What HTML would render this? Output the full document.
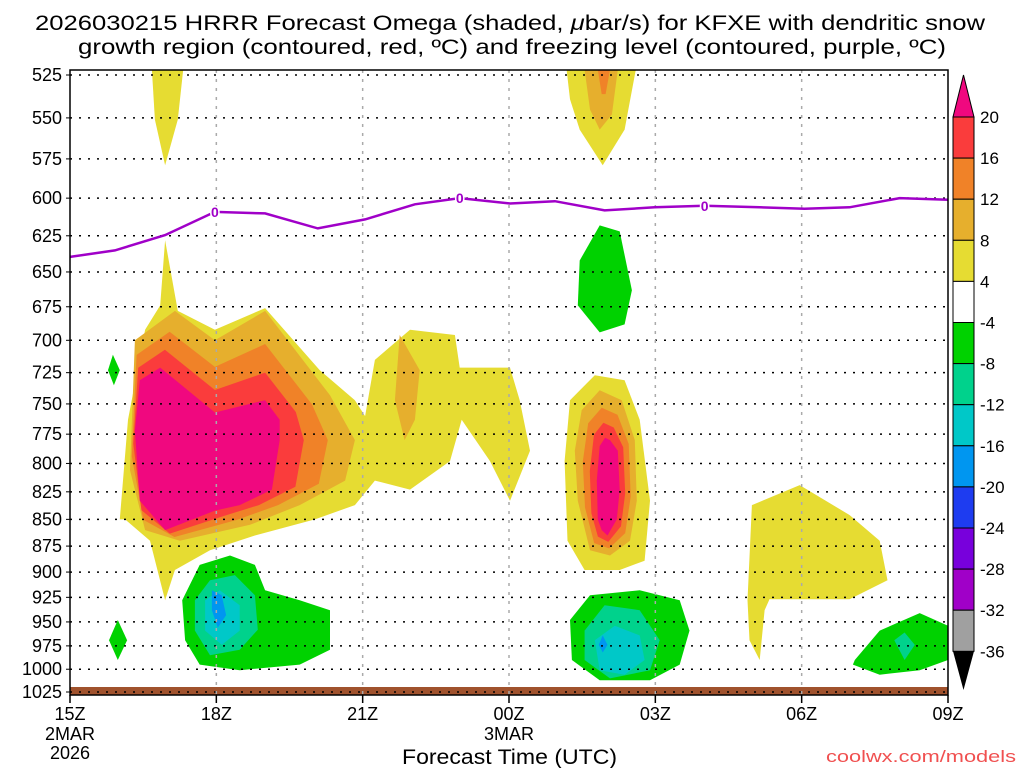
<!DOCTYPE html>
<html><head><meta charset="utf-8">
<style>
html,body{margin:0;padding:0;background:#fff;width:1024px;height:768px;overflow:hidden}
svg{display:block}
text{font-family:"Liberation Sans",sans-serif;fill:#000}
</style></head>
<body>
<svg id="chart" width="1024" height="768" viewBox="0 0 1024 768" xmlns="http://www.w3.org/2000/svg">
<g id="title">
<text x="35" y="30" font-size="21" textLength="950" lengthAdjust="spacingAndGlyphs">2026030215 HRRR Forecast Omega (shaded, <tspan font-style="italic">μ</tspan>bar/s) for KFXE with dendritic snow</text>
<text x="78" y="54" font-size="21" textLength="868" lengthAdjust="spacingAndGlyphs">growth region (contoured, red, ºC) and freezing level (contoured, purple, ºC)</text>
</g>
<g id="fills"></g>
<g id="grid"></g>
<g id="frz"></g>
<g id="axes"></g>
<g id="cbar"></g>
<text x="402" y="764" font-size="21" textLength="215" lengthAdjust="spacingAndGlyphs">Forecast Time (UTC)</text>
<text x="826" y="762" font-size="17" textLength="190" lengthAdjust="spacingAndGlyphs" style="fill:#f05050">coolwx.com/models</text>
</svg>
<script>
// ---- data (hour since 15Z, pressure hPa) ----
const pressureTicks=[525,550,575,600,625,650,675,700,725,750,775,800,825,850,875,900,925,950,975,1000,1025];
const timeTicks=[0,3,6,9,12,15,18];
const timeLabels=["15Z","18Z","21Z","00Z","03Z","06Z","09Z"];
const dateLabels={0:["2MAR","2026"],9:["3MAR"]};
const cbarLevels=[20,16,12,8,4,-4,-8,-12,-16,-20,-24,-28,-32,-36];
const freezeHours=[0,0.92,1.95,2.97,4.0,5.08,6.05,7.07,7.99,9.02,9.94,10.96,11.99,13.01,14.14,15.06,15.98,17.01,18.0];
const freezePres=[639.5,635,624.5,609,610,620,614,604,600,603.5,602,608,606,605,606,607,606,600,601];
const freezeLabelHours=[2.97,7.99,13.01];

const yellowA=[[1.02,850],[1.19,763],[1.54,692],[1.85,674],[1.95,628],[2.21,678],[2.97,692],[4.0,676],[5.12,723],[5.84,747],[6.05,760],[6.25,715],[6.97,692],[7.89,696],[7.99,721],[9.02,721],[9.22,747],[9.43,789],[9.02,833],[8.61,798],[8.03,763],[7.79,798],[6.97,823],[6.25,815],[5.84,837],[5.02,850],[3.79,865],[2.87,879],[2.15,898],[1.95,928],[1.64,870],[1.13,850]];
const loA=[[1.33,700],[2.15,678],[2.97,700],[4.0,678],[5.33,743],[5.84,780],[5.64,815],[4.71,837],[3.69,855],[2.25,870],[1.54,860],[1.23,806]];
const magA=[[1.43,731],[1.85,721],[2.97,757],[4.0,747],[4.3,763],[4.3,780],[4.14,823],[3.48,837],[2.97,842],[1.95,860],[1.43,833],[1.33,772]];
const orange22=[[6.76,696],[7.17,723],[7.07,763],[6.86,780],[6.66,747]];
const yellowTop16=[[1.68,522],[2.32,522],[2.21,551],[1.95,579],[1.74,551]];
const yellowTop02=[[10.18,522],[11.6,522],[11.37,557],[10.92,579],[10.45,557],[10.25,539]];
const loTop02=[[10.55,522],[11.23,522],[11.11,548],[10.86,557],[10.66,545]];
const orTop02=[[10.82,522],[11.07,522],[10.98,536],[10.9,536]];
const green02Up=[[10.45,642],[10.86,618],[11.27,622],[11.52,663],[11.37,688],[10.86,694],[10.41,674]];
const yellowB=[[10.14,798],[10.25,747],[10.76,727],[11.37,731],[11.68,763],[11.89,833],[11.78,889],[11.27,898],[10.55,898],[10.2,870]];
const loB=[[10.35,789],[10.49,755],[10.86,739],[11.31,747],[11.58,780],[11.62,833],[11.48,870],[11.07,884],[10.66,879],[10.41,833]];
const magB=[[10.8,815],[10.86,785],[10.97,778],[11.07,780],[11.23,789],[11.27,823],[11.21,850],[11.02,865],[10.9,860],[10.82,850]];
const greenL1=[[0.88,711],[1.02,723],[0.9,735],[0.78,723]];
const greenL2=[[0.98,948],[1.17,969],[0.98,990],[0.8,969]];
const green18=[[2.3,928],[2.66,893],[3.28,884],[3.79,893],[4.0,918],[4.71,928],[5.33,938],[5.33,979],[4.71,995],[3.48,1001],[2.66,995],[2.36,969]];
const teal18=[[2.56,928],[2.87,908],[3.38,903],[3.79,923],[3.85,958],[3.48,979],[2.87,985],[2.56,959]];
const cyan18=[[2.77,928],[3.07,918],[3.48,933],[3.48,959],[3.11,974],[2.77,959]];
const blue18=[[2.91,918],[3.11,923],[3.2,943],[3.03,956],[2.91,938]];
const green02=[[10.25,948],[10.66,923],[11.68,918],[12.5,928],[12.7,959],[12.5,995],[11.89,1012],[10.86,1012],[10.29,990]];
const teal02=[[10.55,959],[10.96,933],[11.68,938],[12.09,969],[11.89,1001],[11.07,1010],[10.55,990]];
const cyan02=[[10.76,969],[11.17,954],[11.68,964],[11.78,990],[11.37,1006],[10.86,1001]];
const blue02=[[10.92,964],[11.02,974],[10.92,982],[10.84,974]];
const green08=[[16.09,990],[16.6,959],[17.42,941],[18,954],[18,990],[17.42,1001],[16.6,1006],[16.05,995]];
const teal08=[[16.9,969],[17.11,961],[17.32,974],[17.11,990]];
const yellowR=[[13.98,837],[14.96,819],[15.98,846],[16.6,870],[16.76,908],[15.98,927],[14.34,927],[14.24,938],[14.14,990],[13.93,969],[13.89,928]];

const C={mag:"#f0087f",red:"#fa3c3c",or:"#f08228",lo:"#e6af2d",ye:"#e6dc32",gr:"#00d200",te:"#00d28c",cy:"#00c8c8",lb:"#0096f0",bl:"#1e3cf0",pu:"#7800dc",vi:"#a000c8",gy:"#a0a0a0"};
// ---- axes functions ----
const X0=70,X1=948,Y0=75,Y1=692;
const xS=h=>X0+h*(X1-X0)/18;
const yS=p=>Y0+(Math.log(p)-Math.log(525))*(Y1-Y0)/(Math.log(1025)-Math.log(525));
const NS="http://www.w3.org/2000/svg";
function mk(tag,attrs,parent){const e=document.createElementNS(NS,tag);for(const k in attrs)e.setAttribute(k,attrs[k]);parent.appendChild(e);return e;}
const fills=document.getElementById('fills');
function poly(pts,color,name){
  const e=mk('polygon',{points:pts.map(q=>xS(q[0]).toFixed(1)+','+yS(q[1]).toFixed(1)).join(' '),fill:color},fills);
  
  
}
function lerp(a,b,t){return a.map((q,i)=>[q[0]+(b[i][0]-q[0])*t,q[1]+(b[i][1]-q[1])*t]);}
poly(yellowA,C.ye,'omega-4-8-left');
poly(loA,C.lo,'omega-8-12-left');
poly(lerp(loA,magA,0.36),C.or,'omega-12-16-left');
poly(lerp(loA,magA,0.68),C.red,'omega-16-20-left');
poly(magA,C.mag,'omega-20-left');
poly(orange22,C.lo,'omega-8-12-22z');
poly(yellowTop16,C.ye,'omega-4-8-top-16z');
poly(yellowTop02,C.ye,'omega-4-8-top-02z');
poly(loTop02,C.lo,'omega-8-12-top-02z');
poly(orTop02,C.or,'omega-12-16-top-02z');
poly(green02Up,C.gr,'omega-neg-upper-02z');
poly(yellowB,C.ye,'omega-4-8-02z');
poly(loB,C.lo,'omega-8-12-02z');
poly(lerp(loB,magB,0.36),C.or,'omega-12-16-02z');
poly(lerp(loB,magB,0.68),C.red,'omega-16-20-02z');
poly(magB,C.mag,'omega-20-02z');
poly(greenL1,C.gr,'omega-neg-16z-725');
poly(greenL2,C.gr,'omega-neg-16z-975');
poly(green18,C.gr,'omega-neg-18z');
poly(teal18,C.te,'omega-neg8-18z');
poly(cyan18,C.cy,'omega-neg12-18z');
poly(blue18,C.lb,'omega-neg16-18z');
poly(green02,C.gr,'omega-neg-02z');
poly(teal02,C.te,'omega-neg8-02z');
poly(cyan02,C.cy,'omega-neg12-02z');
poly(blue02,C.lb,'omega-neg16-02z');
poly(green08,C.gr,'omega-neg-08z');
poly(teal08,C.te,'omega-neg8-08z');
poly(yellowR,C.ye,'omega-4-8-06z');
// ground
const groundRect=mk('rect',{x:X0,y:687,width:X1-X0,height:8,fill:"#a0522d"},fills);



// grid
const grid=document.getElementById('grid');
pressureTicks.forEach(p=>{
  const l=mk('line',{x1:X0,x2:X1,y1:yS(p),y2:yS(p),stroke:"#000","stroke-width":1.5,"stroke-dasharray":"2,7"},grid);
  
  
});
timeTicks.slice(1,-1).forEach(h=>{
  const l=mk('line',{x1:xS(h),x2:xS(h),y1:70,y2:695,stroke:"#aaa","stroke-width":1.5,"stroke-dasharray":"3,6"},grid);
  
  
});

// freezing line
const frz=document.getElementById('frz');
const fl=mk('polyline',{points:freezeHours.map((h,i)=>xS(h).toFixed(1)+','+yS(freezePres[i]).toFixed(1)).join(' '),fill:"none",stroke:"#a000c8","stroke-width":2.5},frz);


freezeLabelHours.forEach(h=>{
  const i=freezeHours.indexOf(h);
  const t=mk('text',{x:xS(h),y:yS(freezePres[i])+5,"font-size":14,"text-anchor":"middle","font-weight":"bold",style:"fill:#a000c8;paint-order:stroke;stroke:#fff;stroke-width:3px"},frz);
  t.textContent='0';
  
  
});

// axes
const ax=document.getElementById('axes');
const frame=mk('rect',{x:X0,y:70,width:X1-X0,height:625,fill:"none",stroke:"#000","stroke-width":1.5},ax);


pressureTicks.forEach(p=>{
  const t=mk('text',{x:62,y:yS(p)+6,"font-size":18,"text-anchor":"end"},ax);
  t.textContent=p;
  
  
  mk('line',{x1:X0-4,x2:X0,y1:yS(p),y2:yS(p),stroke:"#000"},ax);
});
timeTicks.forEach((h,i)=>{
  mk('line',{x1:xS(h),x2:xS(h),y1:695,y2:703,stroke:"#000","stroke-width":1.5},ax);
  const t=mk('text',{x:xS(h),y:720,"font-size":18,"text-anchor":"middle"},ax);
  t.textContent=timeLabels[i];
  
  
  (dateLabels[h]||[]).forEach((s,j)=>{
    const d=mk('text',{x:xS(h),y:740+j*19,"font-size":18,"text-anchor":"middle"},ax);
    d.textContent=s;
    
    
  });
});

// colorbar
const cb=document.getElementById('cbar');
const bandColors=[C.red,C.or,C.lo,C.ye,"#ffffff",C.gr,C.te,C.cy,C.lb,C.bl,C.pu,C.vi,C.gy];
const CB0=117,CBS=41.1,CBX=953,CBW=21;
const triTop=mk('polygon',{points:`${CBX},${CB0} ${CBX+CBW},${CB0} ${CBX+CBW/2},75`,fill:C.mag,stroke:"#000"},cb);


bandColors.forEach((c,i)=>{
  const r=mk('rect',{x:CBX,y:CB0+i*CBS,width:CBW,height:CBS,fill:c,stroke:"#000","stroke-width":1},cb);
  
  
});
const triBot=mk('polygon',{points:`${CBX},${CB0+13*CBS} ${CBX+CBW},${CB0+13*CBS} ${CBX+CBW/2},690`,fill:"#000"},cb);


cbarLevels.forEach((v,i)=>{
  const t=mk('text',{x:980,y:CB0+i*CBS+6,"font-size":17},cb);
  t.textContent=v;
  
  
});
</script>
</body></html>
